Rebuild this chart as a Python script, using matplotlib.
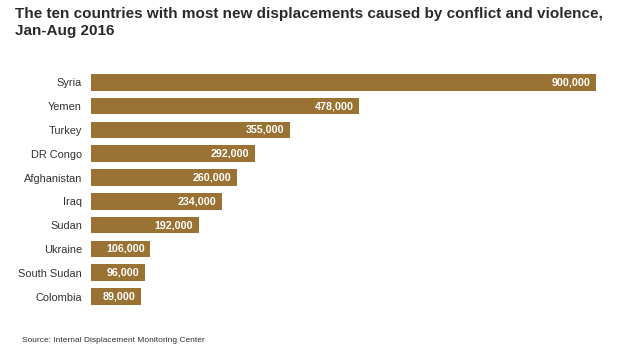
import matplotlib
matplotlib.use('Agg')
import matplotlib.pyplot as plt

countries = ['Syria', 'Yemen', 'Turkey', 'DR Congo', 'Afghanistan', 'Iraq', 'Sudan',
             'Ukraine', 'South Sudan', 'Colombia']
displacements = [900000, 478000, 355000, 292000, 260000, 234000, 192000, 106000, 96000, 89000]

bar_color = '#9a7234'
plt.rcParams['font.family'] = ['Liberation Sans', 'DejaVu Sans']

fig = plt.figure(figsize=(6.19, 3.52), dpi=100)
ax = fig.add_axes([91 / 619, 40 / 352, 505 / 619, 238 / 352])

pos = list(range(len(countries)))
ax.barh(pos, displacements, height=0.7, color=bar_color)
ax.set_xlim(0, 900000)
ax.set_ylim(len(countries) - 0.35, -0.35)

for p, v in zip(pos, displacements):
	ax.annotate('{:,}'.format(v), xy=(v, p), xytext=(-4, 0), textcoords='offset points',
		ha='right', va='center', color='white', fontsize=7.7, fontweight='bold')

ax.set_yticks(pos)
ax.set_yticklabels(countries, fontsize=7.9, color='#333333')
ax.tick_params(axis='y', length=0, pad=6.5)
ax.set_xticks([])
for s in ax.spines.values():
	s.set_visible(False)

fig.text(15 / 619, 1 - 7 / 352, 'The ten countries with most new displacements caused by conflict and violence,\nJan-Aug 2016',
	ha='left', va='top', fontsize=11, fontweight='bold', color='#2a2a2a', linespacing=1.3)
fig.text(22 / 619, 1 - 340 / 352, 'Source: Internal Displacement Monitoring Center',
	ha='left', va='center', fontsize=6, color='#333333')

fig.savefig('out.png', dpi=100)
